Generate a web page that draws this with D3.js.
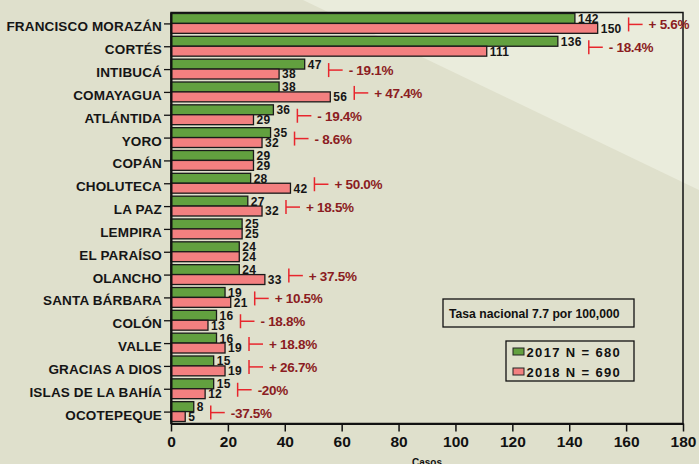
<!DOCTYPE html>
<html>
<head>
<meta charset="utf-8">
<script src="https://cdn.jsdelivr.net/npm/d3@7"></script>
<style>
  body { margin: 0; }
  svg { display: block; font-family: "Liberation Sans", Arial, sans-serif; font-weight: bold; }
</style>
</head>
<body>
<div id="chart"></div>
<script>
var width = 699;
var height = 464;

// data
var departamentos = ["FRANCISCO MORAZÁN", "CORTÉS", "INTIBUCÁ", "COMAYAGUA", "ATLÁNTIDA", "YORO",
  "COPÁN", "CHOLUTECA", "LA PAZ", "LEMPIRA", "EL PARAÍSO", "OLANCHO", "SANTA BÁRBARA",
  "COLÓN", "VALLE", "GRACIAS A DIOS", "ISLAS DE LA BAHÍA", "OCOTEPEQUE"];
var casos2017 = [142, 136, 47, 38, 36, 35, 29, 28, 27, 25, 24, 24, 19, 16, 16, 15, 15, 8];
var casos2018 = [150, 111, 38, 56, 29, 32, 29, 42, 32, 25, 24, 33, 21, 13, 19, 19, 12, 5];
var cambio = ["+ 5.6%", "- 18.4%", "- 19.1%", "+ 47.4%", "- 19.4%", "- 8.6%", "", "+ 50.0%",
  "+ 18.5%", "", "", "+ 37.5%", "+ 10.5%", "- 18.8%", "+ 18.8%", "+ 26.7%", "-20%", "-37.5%"];
var xTicks = [0, 20, 40, 60, 80, 100, 120, 140, 160, 180];
var series = ["2017 N = 680", "2018 N = 690"];
var colores = ["#62a03f", "#f38080"];
var tasa = "Tasa nacional 7.7 por 100,000";

var svg = d3.select("#chart").append("svg")
  .attr("width", width)
  .attr("height", height);

// background with the lighter diagonal band
svg.append("rect").attr("width", width).attr("height", height).attr("fill", "#dfe0cc");
svg.append("polygon")
  .attr("points", "303,0 699,0 699,190")
  .attr("fill", "#eaecdc");

var xScale = d3.scaleLinear().domain([0, 180]).range([171, 683]);
var yScale = d3.scaleBand().domain(departamentos).range([12.5, 423.5]);
var bw = yScale.bandwidth();
var sub = d3.scaleBand().domain(series).range([1, bw - 2]);

// frame
svg.append("rect")
  .attr("x", xScale(0)).attr("y", 12.5)
  .attr("width", xScale(180) - xScale(0)).attr("height", 411)
  .attr("fill", "none").attr("stroke", "#111").attr("stroke-width", 1.5);

var rows = departamentos.map(function (d, i) {
  return { dep: d, v: [casos2017[i], casos2018[i]], pct: cambio[i] };
});

var row = svg.selectAll(".row").data(rows).enter().append("g")
  .attr("class", "row")
  .attr("transform", function (d) { return "translate(0," + yScale(d.dep) + ")"; });

row.selectAll("rect").data(function (d) {
  return d.v.map(function (v, j) { return { v: v, s: series[j], c: colores[j] }; });
}).enter().append("rect")
  .attr("x", xScale(0))
  .attr("y", function (d) { return sub(d.s); })
  .attr("width", function (d) { return xScale(d.v) - xScale(0); })
  .attr("height", sub.bandwidth())
  .attr("fill", function (d) { return d.c; })
  .attr("stroke", "#1a1a1a")
  .attr("stroke-width", 1.3);

row.selectAll(".val").data(function (d) {
  return d.v.map(function (v, j) { return { v: v, s: series[j] }; });
}).enter().append("text")
  .attr("class", "val")
  .attr("x", function (d) { return xScale(d.v) + 3; })
  .attr("y", function (d) { return sub(d.s) + sub.bandwidth() - 0.5; })
  .attr("font-size", 12)
  .attr("letter-spacing", 0.3)
  .attr("fill", "#151515")
  .text(function (d) { return d.v; });

// percent change brackets, placed just after the longer value label
row.each(function (d) {
  if (!d.pct) return;
  var g = d3.select(this);
  var end = 0;
  g.selectAll(".val").each(function () {
    var b = this.getBBox();
    end = Math.max(end, b.x + b.width);
  });
  var bx = end + 7;
  var cy = bw / 2 + 0.5;
  g.append("line").attr("x1", bx).attr("x2", bx).attr("y1", cy - 7).attr("y2", cy + 7)
    .attr("stroke", "#e8262d").attr("stroke-width", 1.5);
  g.append("line").attr("x1", bx).attr("x2", bx + 14).attr("y1", cy).attr("y2", cy)
    .attr("stroke", "#e8262d").attr("stroke-width", 1.5);
  g.append("text")
    .attr("x", bx + 20).attr("y", cy + 5)
    .attr("font-size", 13.5)
    .attr("letter-spacing", -0.3)
    .attr("fill", "#8b1c22")
    .text(d.pct);
});

// axes
var xAxis = d3.axisBottom(xScale).tickValues(xTicks).tickSize(8).tickSizeOuter(0).tickPadding(4);
var xg = svg.append("g").attr("transform", "translate(0,423.5)").call(xAxis);
xg.select(".domain").attr("stroke", "#111").attr("stroke-width", 2);
xg.selectAll(".tick line").attr("stroke", "#111").attr("stroke-width", 1.5);
xg.selectAll(".tick text").attr("font-size", 15.5).attr("font-family", null).attr("fill", "#111");

var yAxis = d3.axisLeft(yScale).tickSize(7).tickSizeOuter(0).tickPadding(2);
var yg = svg.append("g").attr("transform", "translate(171,0)").call(yAxis);
yg.select(".domain").attr("stroke", "#111").attr("stroke-width", 2);
yg.selectAll(".tick line").attr("stroke", "#111").attr("stroke-width", 1.3);
yg.selectAll(".tick text").attr("font-size", 13.5).attr("letter-spacing", 0.15)
  .attr("font-family", null).attr("fill", "#151515").attr("dy", "0.55em");

svg.append("text")
  .attr("x", (xScale(0) + xScale(180)) / 2).attr("y", 466)
  .attr("text-anchor", "middle").attr("font-size", 10).attr("fill", "#111")
  .text("Casos");

// national rate box
svg.append("rect").attr("x", 443).attr("y", 299).attr("width", 191).attr("height", 28)
  .attr("fill", "none").attr("stroke", "#111").attr("stroke-width", 1.3);
svg.append("text").attr("x", 449).attr("y", 317.5).attr("font-size", 12.2).attr("fill", "#111")
  .text(tasa);

// legend
var legend = svg.append("g").attr("transform", "translate(506,341)");
legend.append("rect").attr("width", 128).attr("height", 40)
  .attr("fill", "none").attr("stroke", "#111").attr("stroke-width", 1.3);
var item = legend.selectAll(".item").data(series).enter().append("g")
  .attr("transform", function (d, i) { return "translate(0," + (i * 20) + ")"; });
item.append("rect").attr("x", 7).attr("y", 7).attr("width", 11).attr("height", 7)
  .attr("fill", function (d, i) { return colores[i]; })
  .attr("stroke", "#222").attr("stroke-width", 1);
item.append("text").attr("x", 20.5).attr("y", 15.5)
  .attr("font-size", 13).attr("letter-spacing", 1.35).attr("fill", "#111")
  .text(function (d) { return d; });
</script>
</body>
</html>
